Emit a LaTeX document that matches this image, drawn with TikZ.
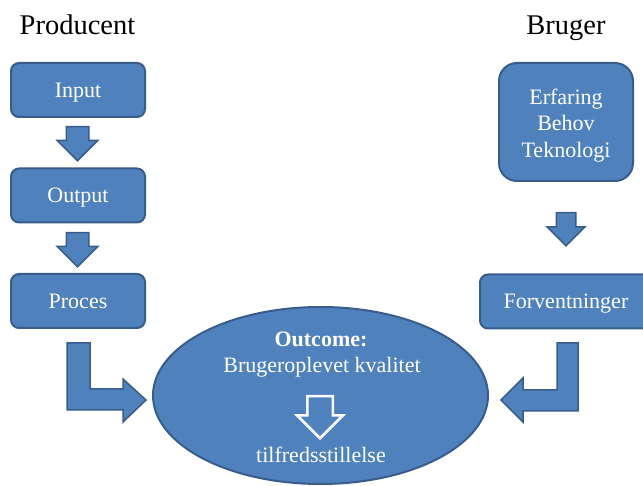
\documentclass[tikz,border=0pt]{standalone}
\usepackage{fontspec}
\setmainfont{Liberation Serif}
\usetikzlibrary{shapes.geometric, shapes.arrows, positioning}
\definecolor{boxblue}{HTML}{4F81BD}
\definecolor{boxline}{HTML}{385D8A}

\begin{document}
\begin{tikzpicture}[
    x=1pt, y=-1pt,
    title/.style={anchor=base, font=\fontsize{28.5}{32}\selectfont},
    box/.style={draw=boxline, fill=boxblue, line width=2pt, rounded corners=8pt, minimum width=134pt, minimum height=54pt, align=center, text=white, text height=15pt, text depth=0pt, font=\fontsize{22}{26.5}\selectfont},
    bigbox/.style={box, rounded corners=18pt, minimum height=118pt, text height=70.6pt, text depth=0pt},
    outcome/.style={draw=boxline, fill=boxblue, line width=2pt, ellipse, minimum width=335pt, minimum height=177pt},
    intext/.style={anchor=base, text=white, font=\fontsize{22}{26.5}\selectfont},
    downarrow/.style={single arrow, draw=boxline, fill=boxblue, line width=1.5pt, shape border rotate=270, anchor=tail, inner sep=10.5pt, minimum height=34pt, single arrow head extend=9pt},
    bendarrow/.style={draw=boxline, fill=boxblue, line width=1.5pt, line join=miter}
]
    \useasboundingbox (0,0) rectangle (643,486);

    % ================= TITLES =================
    \node[title] (producent) at (77.5, 35) {Producent};
    \node[title] (bruger) at (566, 35) {Bruger};

    % ================= PRODUCER SIDE =================
    \node[box] (input) at (78, 90) {Input};
    \node[box] (output) at (78, 195.5) {Output};
    \node[box] (proces) at (78, 301) {Proces};

    \node[downarrow] (arr_in) at (77.5, 126) {};
    \node[downarrow] (arr_out) at (77.5, 232) {};

    % ================= USER SIDE =================
    \node[bigbox] (erfaring) at (566, 122) {Erfaring\\Behov\\Teknologi};
    \node[box, minimum width=172pt] (forvent) at (566, 301.5) {Forventninger};

    \node[downarrow, inner sep=9pt, minimum height=33pt] (arr_erf) at (566, 212) {};

    % ================= OUTCOME =================
    \node[outcome] (ellipse) at (320.5, 395.5) {};
    \node[intext, font=\fontsize{22}{26.5}\selectfont\bfseries] (o_title) at (321, 346.5) {Outcome:};
    \node[intext] (o_quality) at (322, 373) {Brugeroplevet kvalitet};
    \node[downarrow, draw=white, line width=2.5pt, inner sep=11.5pt, minimum height=42pt, single arrow head extend=10pt] (arr_inner) at (320, 395) {};
    \node[intext] (o_satisf) at (321, 462.5) {tilfredsstillelse};

    % ================= BENT ARROWS =================
    % Proces -> Outcome
    \draw[bendarrow] (67,343) -- (90,343) -- (90,389) -- (123,389) -- (123,379) -- (146,400) -- (123,422) -- (123,410) -- (67,410) -- cycle;
    % Forventninger -> Outcome
    \draw[bendarrow] (578,343) -- (557,343) -- (557,390) -- (523,390) -- (523,378) -- (501,400) -- (523,422) -- (523,411) -- (578,411) -- cycle;

\end{tikzpicture}
\end{document}
